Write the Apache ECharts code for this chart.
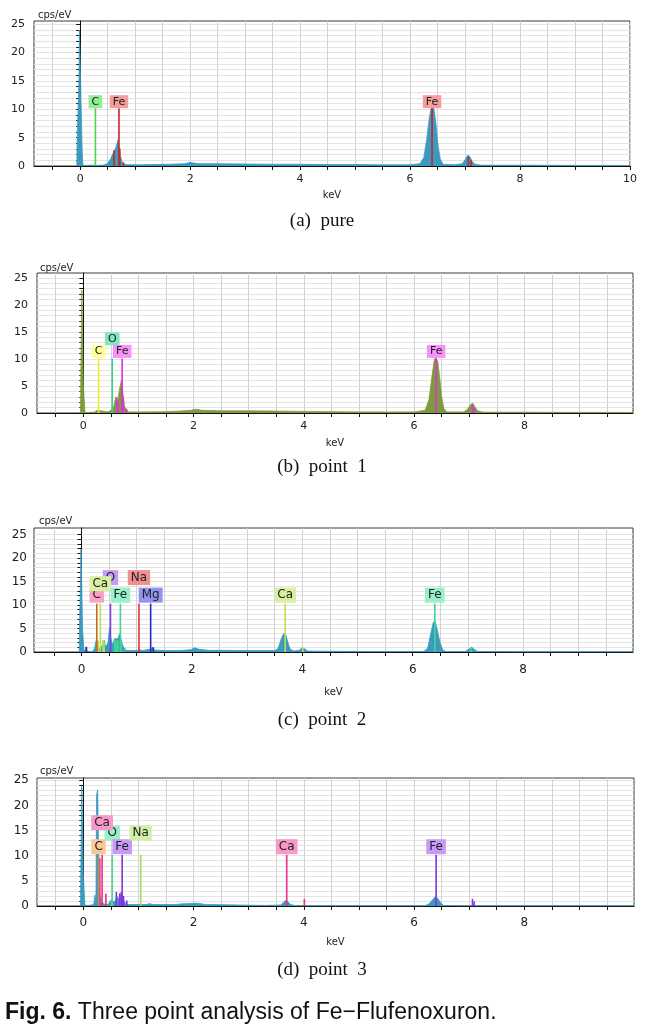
<!DOCTYPE html>
<html>
<head>
<meta charset="utf-8">
<style>
html,body{margin:0;padding:0;background:#fff;}
#chart{width:655px;height:1029px;}
</style>
<script src="https://cdn.jsdelivr.net/npm/echarts@6/dist/echarts.min.js"></script>
</head>
<body>
<div id="chart"></div>
<script>
// ---------------- DATA ----------------
const xTickValuesPure = [-0.5,0,0.5,1,1.5,2,2.5,3,3.5,4,4.5,5,5.5,6,6.5,7,7.5,8,8.5,9,9.5,10];
const xTickValues = [-0.5,0,0.5,1,1.5,2,2.5,3,3.5,4,4.5,5,5.5,6,6.5,7,7.5,8,8.5,9,9.5];
const xLabelValuesPure = [0,2,4,6,8,10];
const xLabelValues = [0,2,4,6,8];
const yTickValues = [0,1,2,3,4,5,6,7,8,9,10,11,12,13,14,15,16,17,18,19,20,21,22,23,24,25];
const yLabelValues = [0,5,10,15,20,25];

const panelCaptions = ['(a)  pure','(b)  point  1','(c)  point  2','(d)  point  3'];
const figureCaptionLabel = 'Fig. 6.';
const figureCaptionText = ' Three point analysis of Fe\u2212Flufenoxuron.';

// spectra [keV, cps/eV]
const pureSpectrum = [
[-0.06,0],[-0.055,4.4],[-0.025,4.4],[-0.022,15.6],[-0.015,24],[0.006,24],[0.01,14],[0.03,14],[0.035,3],[0.045,3],[0.05,0.1],[0.1,0.1],[0.2,0.15],[0.3,0.1],[0.4,0.15],[0.45,0.2],[0.5,0.5],[0.55,1.2],[0.6,2.3],[0.64,3],[0.67,4],[0.69,4.7],[0.71,3.2],[0.73,1.8],[0.76,0.8],[0.8,0.25],[1.0,0.2],[1.3,0.25],[1.6,0.3],[1.9,0.4],[2.0,0.65],[2.06,0.55],[2.15,0.4],[2.5,0.4],[3.0,0.35],[3.5,0.3],[4.0,0.3],[4.5,0.25],[5.0,0.25],[5.5,0.2],[6.0,0.2],[6.18,0.4],[6.25,1.5],[6.3,4.5],[6.35,8.5],[6.39,10.6],[6.43,10.3],[6.47,7.5],[6.51,3.5],[6.55,1.2],[6.6,0.3],[6.8,0.2],[6.95,0.4],[7.0,1.1],[7.05,1.9],[7.09,1.6],[7.13,0.8],[7.18,0.3],[7.3,0.15],[8.0,0.15],[9.0,0.1],[10.0,0.1]
];
const point1Spectrum = [
[-0.05,0],[-0.045,6.2],[-0.03,6.2],[-0.027,22.7],[-0.005,22.7],[0.0,5.2],[0.025,5.2],[0.03,0.1],[0.1,0.1],[0.2,0.15],[0.23,0.4],[0.25,0.5],[0.28,0.2],[0.45,0.2],[0.5,0.5],[0.55,1.1],[0.59,3],[0.62,2],[0.66,4.6],[0.69,6],[0.72,3.6],[0.75,1.1],[0.78,0.7],[0.82,0.2],[1.0,0.2],[1.5,0.25],[1.75,0.35],[1.95,0.5],[2.05,0.7],[2.15,0.5],[2.5,0.4],[3.0,0.4],[3.5,0.35],[4.0,0.3],[4.5,0.25],[5.0,0.2],[6.0,0.2],[6.2,0.5],[6.27,2.5],[6.32,6.5],[6.36,9.5],[6.39,10.4],[6.43,9.5],[6.47,6],[6.5,3],[6.54,0.8],[6.6,0.2],[6.9,0.2],[6.97,0.7],[7.02,1.5],[7.06,1.85],[7.1,1.2],[7.15,0.4],[7.25,0.15],[8.0,0.15],[9.0,0.1],[9.97,0.1]
];
const point2Spectrum = [
[-0.04,0],[-0.035,5.7],[-0.012,5.7],[-0.008,21.9],[0.016,21.9],[0.02,4.8],[0.04,4.8],[0.045,0],[0.08,0],[0.085,1.1],[0.1,1.1],[0.105,0.1],[0.2,0.1],[0.24,0.8],[0.27,2.8],[0.3,1.2],[0.33,0.5],[0.38,1.5],[0.41,2.5],[0.44,1],[0.48,2],[0.51,5.3],[0.53,3],[0.56,1.5],[0.6,2.8],[0.63,2.5],[0.66,2.8],[0.69,3.9],[0.72,2.6],[0.75,1.2],[0.78,0.8],[0.82,0.3],[1.0,0.3],[1.05,0.5],[1.1,0.3],[1.25,0.6],[1.29,1],[1.33,0.4],[1.5,0.3],[1.72,0.3],[1.75,0.7],[1.8,0.3],[1.98,0.5],[2.05,0.9],[2.12,0.6],[2.3,0.35],[2.5,0.35],[3.0,0.3],[3.5,0.3],[3.56,0.7],[3.61,2.5],[3.66,3.9],[3.7,3.7],[3.74,2],[3.78,0.6],[3.85,0.2],[3.95,0.4],[3.99,0.85],[4.04,0.7],[4.1,0.2],[4.5,0.15],[5.5,0.1],[6.2,0.1],[6.27,0.8],[6.32,3.5],[6.37,6.2],[6.4,6.7],[6.44,5],[6.49,2.2],[6.54,0.5],[6.6,0.1],[6.95,0.1],[7.02,0.6],[7.07,1],[7.12,0.5],[7.18,0.1],[8.0,0.05],[9.99,0.05]
];
const point3Spectrum = [
[-0.05,0],[-0.045,6.3],[-0.03,6.3],[-0.028,23.8],[-0.004,23.6],[0.0,6],[0.025,6],[0.03,0.1],[0.1,0.1],[0.19,0.3],[0.21,2.2],[0.23,1],[0.24,22],[0.26,23.1],[0.28,23.3],[0.29,3],[0.32,0.8],[0.4,0.3],[0.45,0.3],[0.5,1.2],[0.53,0.8],[0.58,1],[0.61,2],[0.65,1.2],[0.69,2.4],[0.72,1.5],[0.76,0.6],[0.8,0.3],[1.0,0.3],[1.15,0.3],[1.2,0.5],[1.25,0.3],[1.7,0.3],[1.75,0.4],[1.95,0.5],[2.05,0.55],[2.12,0.5],[2.2,0.3],[2.6,0.25],[2.8,0.2],[3.3,0.1],[3.58,0.2],[3.63,0.7],[3.67,1.1],[3.71,0.9],[3.76,0.3],[3.85,0.05],[6.2,0.05],[6.28,0.5],[6.34,1.3],[6.39,1.9],[6.43,1.5],[6.48,0.7],[6.53,0.1],[7.0,0.05],[9.99,0.05]
];

// element identification markers
const pureMarkerElements = ['C','Fe','Fe'];
const pureMarkerKeV = [0.277,0.705,6.40];
const pureMarkerTop = [10.2,10.2,10.2];
const point1MarkerElements = ['C','O','Fe','Fe'];
const point1MarkerKeV = [0.277,0.525,0.705,6.40];
const point1MarkerTop = [10.1,10.1,10.1,10.1];
const point2MarkerElements = ['C','O','Ca','Fe','Na','Mg','Ca','Fe'];
const point2MarkerKeV = [0.277,0.525,0.341,0.705,1.041,1.253,3.69,6.40];
const point2MarkerTop = [10.3,10.3,10.3,10.3,10.3,10.3,10.3,10.3];
const point3MarkerElements = ['C','O','Fe','Na','Ca','Ca','Fe'];
const point3MarkerKeV = [0.277,0.525,0.705,1.041,0.341,3.69,6.40];
const point3MarkerTop = [10.2,10.2,10.2,10.2,10.2,10.2,10.2];

// characteristic line heights [keV, height, element]
const pureLines = [[0.615,2.8,'Fe'],[0.72,3.1,'Fe'],[0.79,0.65,'Fe'],[7.06,1.7,'Fe'],[7.11,1.0,'Fe']];
const point1Lines = [[0.61,2.8,'Fe'],[0.63,2.0,'Fe'],[0.72,2.8,'Fe'],[0.78,0.8,'Fe'],[7.06,1.5,'Fe'],[7.09,0.9,'Fe']];
const point2Lines = [[0.09,1.1,'Mg'],[0.30,2.5,'Ca'],[0.39,2.5,'Ca'],[0.41,2.0,'Ca'],[0.60,2.8,'Fe'],[0.63,2.4,'Fe'],[0.66,2.5,'Fe'],[0.72,2.5,'Fe'],[0.78,0.7,'Fe'],[1.30,1.0,'Mg'],[4.01,0.9,'Ca'],[7.06,1.1,'Fe']];
const point3Lines = [[0.30,9.5,'Ca'],[0.41,2.5,'Ca'],[0.51,1.0,'O'],[0.60,2.8,'Fe'],[0.66,2.5,'Fe'],[0.69,2.8,'Fe'],[0.73,2.0,'Fe'],[0.79,1.1,'Fe'],[4.01,1.4,'Ca'],[7.06,1.4,'Fe'],[7.09,0.9,'Fe']];

// ---------------- STYLES / LAYOUT ----------------
const panels = [
  {spectrum: pureSpectrum, specColor:'#3a9bbf', els: pureMarkerElements, keV: pureMarkerKeV, top: pureMarkerTop, lines: pureLines,
   rows:[0,0,0], rowOffset:[6.5,18,26],
   colors:{C:{line:'#52d052',bg:'#92ee92'}, Fe:{line:'#cc2424',bg:'#f59c9c'}},
   grid:{left:34, top:21, width:596, height:145}, xmin:-0.84, xmax:10, ymax:25.58,
   ticks:xTickValuesPure, labels:xLabelValuesPure, xLabelMargin:8, yLabelMargin:9, nameGap:24, unitPos:[38,15],
   fs:10, mfs:11, pad:[1,3,1,3]},
  {spectrum: point1Spectrum, specColor:'#7f9a3e', els: point1MarkerElements, keV: point1MarkerKeV, top: point1MarkerTop, lines: point1Lines,
   rows:[0,1,0,0], rowOffset:[7,19.5,30],
   colors:{C:{line:'#ecec30',bg:'#ffff99'}, O:{line:'#3ccf8e',bg:'#80e8c0'}, Fe:{line:'#e030e0',bg:'#f892f8'}},
   grid:{left:37, top:273, width:596, height:140}, xmin:-0.84, xmax:9.97, ymax:25.9,
   ticks:xTickValues, labels:xLabelValues, xLabelMargin:8, yLabelMargin:9, nameGap:25, unitPos:[40,268],
   fs:10, mfs:11, pad:[1,3,1,3]},
  {spectrum: point2Spectrum, specColor:'#3a9bbf', els: point2MarkerElements, keV: point2MarkerKeV, top: point2MarkerTop, lines: point2Lines,
   rows:[0,2,1,0,2,0,0,0], rowOffset:[8.5,20,26],
   colors:{C:{line:'#c06a20',bg:'#f8a2c8'}, O:{line:'#8040e0',bg:'#c49cf8'}, Ca:{line:'#bde04c',bg:'#d8f0a0'}, Fe:{line:'#40d890',bg:'#98f0c8'}, Na:{line:'#e83030',bg:'#f09090'}, Mg:{line:'#2828c8',bg:'#9292f0'}},
   grid:{left:34, top:528, width:599, height:124}, xmin:-0.86, xmax:9.99, ymax:26.4,
   ticks:xTickValues, labels:xLabelValues, xLabelMargin:12, yLabelMargin:7, nameGap:35, unitPos:[39,521],
   fs:11, mfs:12, pad:[2,3,1,3]},
  {spectrum: point3Spectrum, specColor:'#3a9bbf', els: point3MarkerElements, keV: point3MarkerKeV, top: point3MarkerTop, lines: point3Lines,
   rows:[0,1,0,1,2,0,0], rowOffset:[8,21.7,32],
   colors:{C:{line:'#c89050',bg:'#f8c898'}, O:{line:'#50d890',bg:'#98f0c8'}, Fe:{line:'#8830e0',bg:'#c89af8'}, Na:{line:'#a8d860',bg:'#d0f0a8'}, Ca:{line:'#e8308a',bg:'#f89ac8'}},
   grid:{left:37, top:778, width:597, height:128}, xmin:-0.84, xmax:9.99, ymax:25.45,
   ticks:xTickValues, labels:xLabelValues, xLabelMargin:11, yLabelMargin:8, nameGap:31, unitPos:[40,771],
   fs:11, mfs:12, pad:[2,3,1,3]}
];
const captionY = [221, 467, 720, 970];

const axisFont = 'DejaVu Sans';
const grids = [], xAxes = [], yAxes = [], series = [], graphics = [];

panels.forEach((p, i) => {
  grids.push(Object.assign({show:true, borderColor:'#3a3a3a', borderWidth:1, backgroundColor:'#fff', containLabel:false}, p.grid));
  xAxes.push({
    type:'value', gridIndex:i, min:p.xmin, max:p.xmax,
    name:'keV', nameLocation:'middle', nameGap:p.nameGap,
    nameTextStyle:{fontFamily:axisFont, fontSize:10, color:'#222'},
    axisLine:{onZero:false, lineStyle:{color:'#111', width:1}},
    axisTick:{show:true, inside:false, length:4, customValues:p.ticks, lineStyle:{color:'#111'}},
    axisLabel:{customValues:p.labels, margin:p.xLabelMargin, fontFamily:axisFont, fontSize:p.fs+1, color:'#222', formatter: v => String(v)},
    splitLine:{show:true, lineStyle:{color:'#d2d2d2', width:1}}
  });
  yAxes.push({
    type:'value', gridIndex:i, min:0, max:p.ymax,
    axisLine:{show:true, lineStyle:{color:'#111', width:1}},
    axisTick:{show:true, length:4, customValues:yTickValues, lineStyle:{color:'#111'}},
    axisLabel:{customValues:yLabelValues, margin:p.yLabelMargin, fontFamily:axisFont, fontSize:p.fs+1, color:'#222'},
    splitLine:{show:true, lineStyle:{color:'#e4e4e4', width:1}}
  });
  // spectrum
  series.push({
    type:'line', xAxisIndex:i, yAxisIndex:i, data:p.spectrum, showSymbol:false, symbol:'none',
    lineStyle:{color:p.specColor, width:0.8}, areaStyle:{color:p.specColor, opacity:1},
    animation:false, z:2, silent:true
  });
  // characteristic lines
  series.push({
    type:'custom', coordinateSystem:'cartesian2d', xAxisIndex:i, yAxisIndex:i,
    data:p.lines.map(d => [d[0], d[1]]), encode:{x:0, y:1}, animation:false, z:3, silent:true,
    renderItem:(params, api) => {
      const k = api.value(0), h = api.value(1);
      const a = api.coord([k, 0]), b = api.coord([k, h]);
      const el = p.lines[params.dataIndex][2];
      return {type:'line', shape:{x1:a[0], y1:a[1], x2:b[0], y2:b[1]}, style:{stroke:p.colors[el].line, lineWidth:1.6}};
    }
  });
  // element markers
  series.push({
    type:'custom', coordinateSystem:'cartesian2d', xAxisIndex:i, yAxisIndex:i,
    data:p.keV.map((k, j) => [k, p.top[j]]), encode:{x:0, y:1}, animation:false, z:4, silent:true,
    renderItem:(params, api) => {
      const j = params.dataIndex;
      const k = api.value(0), h = api.value(1);
      const a = api.coord([k, 0]), b = api.coord([k, h]);
      const el = p.els[j], c = p.colors[el];
      return {type:'group', children:[
        {type:'line', z2:1, shape:{x1:a[0], y1:a[1], x2:b[0], y2:b[1]}, style:{stroke:c.line, lineWidth:1.6}},
        {type:'text', z2:10 + j, x:b[0], y:b[1] - p.rowOffset[p.rows[j]],
         style:{text:el, fill:'#222', font:p.mfs + 'px "DejaVu Sans"', align:'center', verticalAlign:'middle',
                backgroundColor:c.bg, padding:p.pad}}
      ]};
    }
  });
  graphics.push({type:'text', x:p.unitPos[0], y:p.unitPos[1], style:{text:'cps/eV', fill:'#222', font:'10px "DejaVu Sans"', align:'left', verticalAlign:'middle'}});
  graphics.push({type:'text', x:322, y:captionY[i], style:{text:panelCaptions[i], fill:'#111', font:'19px "Liberation Serif"', align:'center', verticalAlign:'middle'}});
});

graphics.push({type:'text', x:5, y:1013, style:{
  text:'{b|' + figureCaptionLabel + '}{n|' + figureCaptionText + '}',
  align:'left', verticalAlign:'middle',
  rich:{b:{font:'bold 23px "Liberation Sans"', fill:'#111'}, n:{font:'23px "Liberation Sans"', fill:'#111'}}
}});

const chart = echarts.init(document.getElementById('chart'), null, {renderer:'canvas'});
chart.setOption({
  animation:false,
  backgroundColor:'#fff',
  grid:grids, xAxis:xAxes, yAxis:yAxes, series:series, graphic:graphics
});
</script>
</body>
</html>
